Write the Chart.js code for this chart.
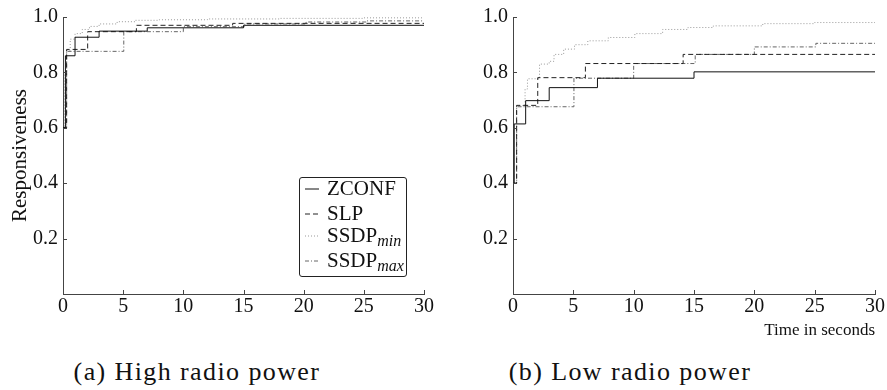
<!DOCTYPE html>
<html>
<head>
<meta charset="utf-8">
<script src="https://cdn.jsdelivr.net/npm/chart.js@4.4.1/dist/chart.umd.min.js"></script>
<style>
  body { margin: 0; background: #fff; width: 887px; height: 390px; position: relative; overflow: hidden; font-family: "Liberation Serif", "Times New Roman", "DejaVu Serif", serif; color: #111; }
  canvas { position: absolute; top: 0; }
  .caption { position: absolute; top: 357px; font-size: 26px; letter-spacing: 1.4px; text-align: center; width: 440px; }
  #legend { position: absolute; left: 299px; top: 177px; width: 106px; height: 98px; border: 1px solid #222; border-radius: 3px; background: #fff; font-size: 21px; }
  .row { position: absolute; left: 5px; height: 24px; }
  .row svg { position: absolute; left: 0; top: 11px; }
  .row span { position: absolute; left: 22px; top: -1px; white-space: nowrap; }
  .row sub { font-style: italic; font-size: 16px; vertical-align: -4px; }
</style>
</head>
<body>
<canvas id="high" width="440" height="320" style="left:0"></canvas>
<canvas id="low" width="447" height="345" style="left:440px"></canvas>
<div id="legend"></div>
<div class="caption" style="left:-23px">(a) High radio power</div>
<div class="caption" style="left:410px">(b) Low radio power</div>
<script>
// series names (subscript after "_")
const seriesNames = ['ZCONF', 'SLP', 'SSDP_min', 'SSDP_max'];
const xTicks = [0, 5, 10, 15, 20, 25, 30];
const yTicks = [0.2, 0.4, 0.6, 0.8, 1.0];

// (a) high radio power: [time in s, responsiveness]
const highZconf = [[0, 0.6], [0.2, 0.86], [1, 0.927], [3, 0.949], [7, 0.961], [15, 0.970], [30, 0.970]];
const highSlp = [[0, 0.6], [0.3, 0.883], [2.05, 0.947], [6.1, 0.970], [14.1, 0.977], [30, 0.977]];
const highSsdpMin = [[0, 0.6], [0.15, 0.8], [0.3, 0.88], [0.6, 0.92], [1, 0.94], [1.6, 0.955], [2.2, 0.966], [3, 0.975],
    [4.5, 0.983], [6, 0.988], [8, 0.990], [12, 0.993], [18, 0.995], [25, 0.997], [30, 0.997]];
const highSsdpMax = [[0, 0.6], [0.3, 0.876], [5.05, 0.947], [10, 0.965], [15.1, 0.975], [20.2, 0.982], [25.2, 0.986], [30, 0.986]];

// (b) low radio power
const lowZconf = [[0, 0.4], [0.1, 0.614], [1.05, 0.698], [3, 0.745], [7, 0.779], [15, 0.802], [30, 0.802]];
const lowSlp = [[0, 0.4], [0.3, 0.681], [2.05, 0.781], [6, 0.832], [14.1, 0.865], [30, 0.865]];
const lowSsdpMin = [[0, 0.4], [0.3, 0.68], [1.0, 0.74], [1.2, 0.777], [2.2, 0.83], [3.0, 0.84], [3.4, 0.865], [4.2, 0.884],
    [5.1, 0.9], [6.2, 0.914], [7.9, 0.926], [10.1, 0.94], [12.4, 0.955], [14.5, 0.962], [16.6, 0.968], [20.7, 0.976], [25, 0.98], [30, 0.985]];
const lowSsdpMax = [[0, 0.4], [0.3, 0.676], [5.05, 0.779], [10, 0.832], [15.1, 0.865], [20, 0.892], [25.1, 0.905], [30, 0.905]];

const lineStyles = [
    { color: '#111', dash: [] },
    { color: '#222', dash: [5, 3] },
    { color: '#999', dash: [1, 2] },
    { color: '#666', dash: [4, 2, 1, 2] }
];

const serif = '"Liberation Serif", "Times New Roman", "DejaVu Serif", serif';

function makeDatasets(series) {
    return series.map((pts, i) => ({
        label: seriesNames[i],
        data: pts.map(p => ({ x: p[0], y: p[1] })),
        borderColor: lineStyles[i].color,
        borderDash: lineStyles[i].dash,
        borderWidth: 1,
        pointRadius: 0,
        stepped: true,
        fill: false
    }));
}

// ticks pointing into the plot area
const inwardTicks = {
    id: 'inwardTicks',
    afterDraw(chart) {
        const { ctx, chartArea, scales: { x, y } } = chart;
        ctx.save();
        ctx.strokeStyle = '#444';
        ctx.lineWidth = 1;
        ctx.beginPath();
        xTicks.forEach(v => {
            const px = Math.round(x.getPixelForValue(v)) + 0.5;
            ctx.moveTo(px, chartArea.bottom);
            ctx.lineTo(px, chartArea.bottom - 4);
        });
        yTicks.forEach(v => {
            const py = Math.round(y.getPixelForValue(v)) + 0.5;
            ctx.moveTo(chartArea.left, py);
            ctx.lineTo(chartArea.left + 4, py);
        });
        ctx.stroke();
        ctx.restore();
    }
};

function makeChart(id, series, opts) {
    return new Chart(document.getElementById(id), {
        type: 'line',
        data: { datasets: makeDatasets(series) },
        options: {
            responsive: false,
            animation: false,
            layout: { padding: { left: 0, right: opts.padRight, top: 14, bottom: 0 } },
            plugins: { legend: { display: false }, tooltip: { enabled: false } },
            scales: {
                x: {
                    type: 'linear', min: 0, max: 30,
                    afterBuildTicks: s => { s.ticks = xTicks.map(v => ({ value: v })); },
                    afterFit: s => { s.height = opts.xHeight; },
                    grid: { display: false, drawTicks: false },
                    border: { display: true, color: '#444', width: 1 },
                    ticks: { color: '#111', font: { family: serif, size: 20 }, padding: 1, maxRotation: 0 },
                    title: {
                        display: !!opts.xTitle, text: opts.xTitle || '', align: 'end', color: '#111',
                        font: { family: serif, size: 17 }, padding: { top: 0, bottom: 4 }
                    }
                },
                y: {
                    type: 'linear', min: 0, max: 1,
                    afterBuildTicks: s => { s.ticks = yTicks.map(v => ({ value: v })); },
                    afterFit: s => { s.width = opts.yWidth; },
                    grid: { display: false, drawTicks: false },
                    border: { display: true, color: '#444', width: 1 },
                    ticks: { color: '#111', font: { family: serif, size: 20 }, padding: 5, callback: v => v.toFixed(1) },
                    title: {
                        display: !!opts.yTitle, text: opts.yTitle || '', color: '#111',
                        font: { family: serif, size: 21 }, padding: { top: 8, bottom: 0 }
                    }
                }
            }
        },
        plugins: [inwardTicks]
    });
}

makeChart('high', [highZconf, highSlp, highSsdpMin, highSsdpMax],
    { padRight: 16, xHeight: 26, yWidth: 63, yTitle: 'Responsiveness' });
makeChart('low', [lowZconf, lowSlp, lowSsdpMin, lowSsdpMax],
    { padRight: 12, xHeight: 51, yWidth: 73, xTitle: 'Time in seconds' });

// legend with subscripts
const legendRows = [11, 36, 58, 83];
document.getElementById('legend').innerHTML = seriesNames.map((name, i) => {
    const [base, sub] = name.split('_');
    const st = lineStyles[i];
    return `<div class="row" style="top:${legendRows[i] - 12}px">
      <svg width="14" height="2"><line x1="0" y1="1" x2="14" y2="1" stroke="${st.color}" stroke-width="1"
        stroke-dasharray="${st.dash.length ? st.dash.join(' ') : 'none'}"/></svg>
      <span>${base}${sub ? `<sub>${sub}</sub>` : ''}</span></div>`;
}).join('');
</script>
</body>
</html>
